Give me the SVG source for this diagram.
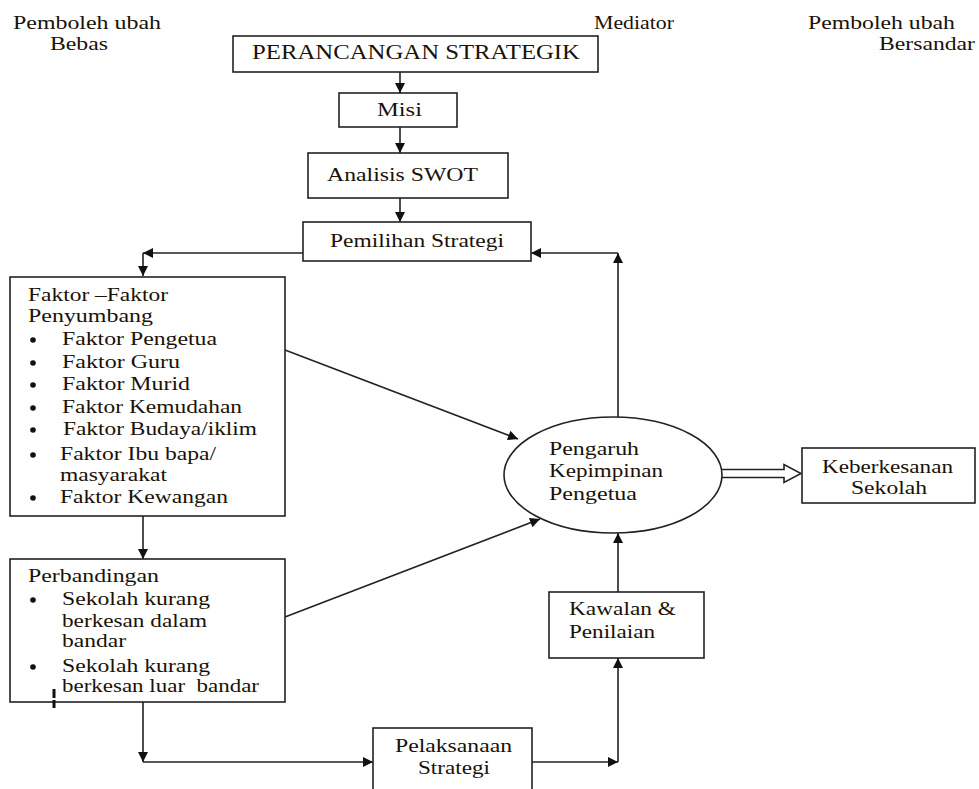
<svg xmlns="http://www.w3.org/2000/svg" width="979" height="789" viewBox="0 0 979 789" font-family="Liberation Serif" font-size="19">
<style>
text{fill:#1a1208}
.box{fill:#fff;stroke:#222;stroke-width:1.6}
.c{fill:none;stroke:#222;stroke-width:1.6}
.b{fill:#111}
</style>
<defs>
<marker id="ah" viewBox="0 0 10 10" refX="10" refY="5" markerWidth="11" markerHeight="10" markerUnits="userSpaceOnUse" orient="auto"><path d="M0,0 L10,5 L0,10 z" fill="#111"/></marker>
</defs>
<rect width="979" height="789" fill="#fff"/>
<g id="headers">
<text x="13" y="29" textLength="148" lengthAdjust="spacingAndGlyphs">Pemboleh ubah</text>
<text x="50" y="50" textLength="58" lengthAdjust="spacingAndGlyphs">Bebas</text>
<text x="594" y="29" textLength="80" lengthAdjust="spacingAndGlyphs">Mediator</text>
<text x="808" y="29" textLength="147" lengthAdjust="spacingAndGlyphs">Pemboleh ubah</text>
<text x="879" y="50" textLength="96" lengthAdjust="spacingAndGlyphs">Bersandar</text>
</g>
<g id="connectors">
<path class="c" d="M400,72 V93" marker-end="url(#ah)"/>
<path class="c" d="M400,127 V153" marker-end="url(#ah)"/>
<path class="c" d="M400,198 V222" marker-end="url(#ah)"/>
<path class="c" d="M303,253 H143" marker-end="url(#ah)"/>
<path class="c" d="M143,253 V276" marker-end="url(#ah)"/>
<path class="c" d="M143,516 V559" marker-end="url(#ah)"/>
<path class="c" d="M143,702 V762" marker-end="url(#ah)"/>
<path class="c" d="M143,762 H373" marker-end="url(#ah)"/>
<path class="c" d="M532,762 H618" marker-end="url(#ah)"/>
<path class="c" d="M618,762 V658" marker-end="url(#ah)"/>
<path class="c" d="M618,592 V533" marker-end="url(#ah)"/>
<path class="c" d="M618,418 V253" marker-end="url(#ah)"/>
<path class="c" d="M618,253 H531" marker-end="url(#ah)"/>
<path class="c" d="M285,350 L518,439" marker-end="url(#ah)"/>
<path class="c" d="M285,617 L540,519" marker-end="url(#ah)"/>
<path class="c" d="M722,469.5 H784 V464.5 L801,473.5 L784,482.5 V477.5 H722" stroke-linejoin="miter"/>
</g>
<g id="perancangan">
<rect class="box" x="233" y="36" width="365" height="36"/>
<text x="252" y="59" font-size="20" textLength="328" lengthAdjust="spacingAndGlyphs">PERANCANGAN STRATEGIK</text>
</g>
<g id="misi">
<rect class="box" x="339" y="93" width="118" height="34"/>
<text x="377" y="116" textLength="45" lengthAdjust="spacingAndGlyphs">Misi</text>
</g>
<g id="swot">
<rect class="box" x="308" y="153" width="200" height="45"/>
<text x="327" y="181" textLength="151" lengthAdjust="spacingAndGlyphs">Analisis SWOT</text>
</g>
<g id="pemilihan">
<rect class="box" x="303" y="222" width="228" height="39"/>
<text x="330" y="247" textLength="174" lengthAdjust="spacingAndGlyphs">Pemilihan Strategi</text>
</g>
<g id="faktor">
<rect class="box" x="10" y="277" width="275" height="239"/>
<text x="28" y="301" textLength="140" lengthAdjust="spacingAndGlyphs">Faktor –Faktor</text>
<text x="28" y="322" textLength="125" lengthAdjust="spacingAndGlyphs">Penyumbang</text>
<circle class="b" cx="33" cy="340" r="2.8"/>
<text x="62" y="345" textLength="155" lengthAdjust="spacingAndGlyphs">Faktor Pengetua</text>
<circle class="b" cx="33" cy="363" r="2.8"/>
<text x="62" y="368" textLength="118" lengthAdjust="spacingAndGlyphs">Faktor Guru</text>
<circle class="b" cx="33" cy="385" r="2.8"/>
<text x="62" y="390" textLength="128" lengthAdjust="spacingAndGlyphs">Faktor Murid</text>
<circle class="b" cx="33" cy="408" r="2.8"/>
<text x="62" y="413" textLength="180" lengthAdjust="spacingAndGlyphs">Faktor Kemudahan</text>
<circle class="b" cx="33" cy="430" r="2.8"/>
<text x="63" y="435" textLength="194" lengthAdjust="spacingAndGlyphs">Faktor Budaya/iklim</text>
<circle class="b" cx="33" cy="455" r="2.8"/>
<text x="60" y="460" textLength="156" lengthAdjust="spacingAndGlyphs">Faktor Ibu bapa/</text>
<text x="60" y="481" textLength="107" lengthAdjust="spacingAndGlyphs">masyarakat</text>
<circle class="b" cx="33" cy="498" r="2.8"/>
<text x="60" y="503" textLength="168" lengthAdjust="spacingAndGlyphs">Faktor Kewangan</text>
</g>
<g id="perbandingan">
<rect class="box" x="10" y="559" width="275" height="143"/>
<text x="28" y="582" textLength="131" lengthAdjust="spacingAndGlyphs">Perbandingan</text>
<circle class="b" cx="33" cy="600" r="2.8"/>
<text x="62" y="605" textLength="148" lengthAdjust="spacingAndGlyphs">Sekolah kurang</text>
<text x="62" y="627" textLength="145" lengthAdjust="spacingAndGlyphs">berkesan dalam</text>
<text x="62" y="647" textLength="64" lengthAdjust="spacingAndGlyphs">bandar</text>
<circle class="b" cx="33" cy="667" r="2.8"/>
<text x="62" y="672" textLength="148" lengthAdjust="spacingAndGlyphs">Sekolah kurang</text>
<text x="62" y="692" textLength="197" lengthAdjust="spacingAndGlyphs" xml:space="preserve">berkesan luar  bandar</text>
<path d="M54,689 V698 M54,700 V708" stroke="#111" stroke-width="3"/>
</g>
<g id="pengaruh">
<ellipse cx="613" cy="475" rx="109" ry="58" fill="#fff" stroke="#222" stroke-width="1.6"/>
<text x="549" y="455" textLength="90" lengthAdjust="spacingAndGlyphs">Pengaruh</text>
<text x="549" y="477" textLength="114" lengthAdjust="spacingAndGlyphs">Kepimpinan</text>
<text x="549" y="500" textLength="88" lengthAdjust="spacingAndGlyphs">Pengetua</text>
</g>
<g id="keberkesanan">
<rect class="box" x="802" y="448" width="173" height="55"/>
<text x="822" y="473" textLength="131" lengthAdjust="spacingAndGlyphs">Keberkesanan</text>
<text x="851" y="494" textLength="76" lengthAdjust="spacingAndGlyphs">Sekolah</text>
</g>
<g id="kawalan">
<rect class="box" x="549" y="592" width="155" height="66"/>
<text x="569" y="615" textLength="107" lengthAdjust="spacingAndGlyphs">Kawalan &amp;</text>
<text x="569" y="638" textLength="86" lengthAdjust="spacingAndGlyphs">Penilaian</text>
</g>
<g id="pelaksanaan">
<rect class="box" x="373" y="728" width="159" height="70"/>
<text x="395" y="752" textLength="117" lengthAdjust="spacingAndGlyphs">Pelaksanaan</text>
<text x="418" y="774" textLength="72" lengthAdjust="spacingAndGlyphs">Strategi</text>
</g>
</svg>
